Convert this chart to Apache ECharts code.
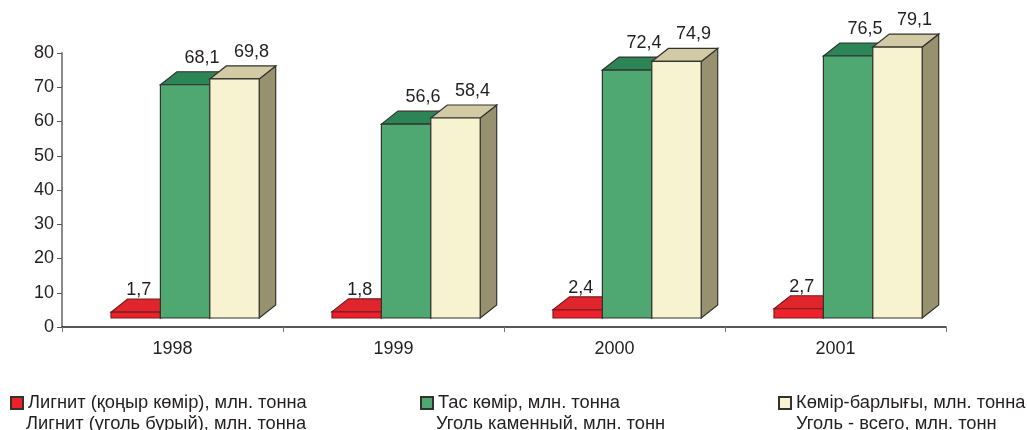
<!DOCTYPE html>
<html>
<head>
<meta charset="utf-8">
<style>
  html, body { margin: 0; padding: 0; background: #fff; }
  #chart { width: 1027px; height: 430px; }
</style>
<script src="https://cdn.jsdelivr.net/npm/echarts@6/dist/echarts.min.js"></script>
</head>
<body>
<div id="chart"></div>
<script>
const years = ['1998', '1999', '2000', '2001'];
const lignite = [1.7, 1.8, 2.4, 2.7];
const hardCoal = [68.1, 56.6, 72.4, 76.5];
const totalCoal = [69.8, 58.4, 74.9, 79.1];
const yTicks = [0, 10, 20, 30, 40, 50, 60, 70, 80];

const names1 = ['Лигнит (қоңыр көмір), млн. тонна', 'Тас көмір, млн. тонна', 'Көмір-барлығы, млн. тонна'];
const names2 = ['Лигнит (уголь бурый), млн. тонна', 'Уголь каменный, млн. тонн', 'Уголь - всего, млн. тонн'];

const FONT = '"Liberation Sans", Arial, sans-serif';
const TEXT = '#231f20';
const EDGE = '#33332e';

// fake 3d: the floor sits 9px above the axis and the box goes back 16/13px
const FLOOR = 9, DX = 16.5, DY = 13, BAR_W = 49.4, GROUP_LEFT = -61.5;

function box3d(slot, colors, labelDx, labelDy) {
  return function (params, api) {
    const i = api.value(0), v = api.value(1);
    const zero = api.coord([i, 0]);
    const top = api.coord([i, v]);
    const l = zero[0] + GROUP_LEFT + slot * BAR_W;
    const r = l + BAR_W;
    const b = zero[1] - FLOOR;
    const t = top[1] - FLOOR;
    const style = c => ({ fill: c, stroke: colors.edge, lineWidth: 1.2 });
    return {
      type: 'group',
      children: [
        { type: 'polygon', shape: { points: [[r, b], [r + DX, b - DY], [r + DX, t - DY], [r, t]] }, style: style(colors.side) },
        { type: 'polygon', shape: { points: [[l, t], [l + DX, t - DY], [r + DX, t - DY], [r, t]] }, style: style(colors.top) },
        { type: 'polygon', shape: { points: [[l, b], [r, b], [r, t], [l, t]] }, style: style(colors.front) },
        {
          type: 'text',
          style: {
            x: (l + r) / 2 + labelDx,
            y: t - DY + labelDy,
            text: String(v).replace('.', ','),
            fill: TEXT,
            font: '18px ' + FONT,
            textAlign: 'center',
            textVerticalAlign: 'middle'
          }
        }
      ]
    };
  };
}

function makeSeries(name, values, slot, colors, labelDx, labelDy) {
  return {
    name: name,
    type: 'custom',
    clip: false,
    itemStyle: { color: colors.front, borderColor: EDGE, borderWidth: 1 },
    encode: { x: 0, y: 1 },
    renderItem: box3d(slot, colors, labelDx, labelDy),
    data: values.map((v, i) => [i, v])
  };
}

function makeLegend(name, left) {
  return {
    data: [name],
    left: left,
    top: 394,
    padding: 0,
    itemWidth: 12,
    itemHeight: 12,
    icon: 'rect',
    selectedMode: false,
    textStyle: { fontFamily: FONT, fontSize: 18.3, color: TEXT }
  };
}

function secondLine(text, left) {
  return {
    type: 'text',
    left: left,
    top: 415,
    style: { text: text, fill: TEXT, font: '18.3px ' + FONT }
  };
}

let myChart = echarts.init(document.getElementById('chart'), null, { renderer: 'canvas' });

let option = {
  animation: false,
  backgroundColor: '#fff',
  grid: { left: 62, right: 81, top: 53, bottom: 103 },
  legend: [
    makeLegend(names1[0], 10),
    makeLegend(names1[1], 420),
    makeLegend(names1[2], 778)
  ],
  graphic: [
    secondLine(names2[0], 26),
    secondLine(names2[1], 436),
    secondLine(names2[2], 796)
  ],
  xAxis: {
    type: 'category',
    data: years,
    boundaryGap: true,
    axisLine: { lineStyle: { color: TEXT, width: 1.5 } },
    axisTick: { show: true, length: 5, lineStyle: { color: '#777' } },
    axisLabel: { fontFamily: FONT, fontSize: 18, color: TEXT, margin: 13 }
  },
  yAxis: {
    type: 'value',
    min: yTicks[0],
    max: yTicks[yTicks.length - 1],
    interval: yTicks[1] - yTicks[0],
    splitLine: { show: false },
    axisLine: { show: true, lineStyle: { color: '#8c8c8c', width: 2 } },
    axisTick: { show: true, length: 5, lineStyle: { color: '#555' } },
    axisLabel: { fontFamily: FONT, fontSize: 18, color: TEXT, margin: 8 }
  },
  series: [
    makeSeries(names1[0], lignite, 0, { front: '#ee2029', top: '#e0252d', side: '#a01c20', edge: '#7a1c20' }, 3, -9),
    makeSeries(names1[1], hardCoal, 1, { front: '#4fa872', top: '#2b8556', side: '#2b8556', edge: EDGE }, 17, -14),
    makeSeries(names1[2], totalCoal, 2, { front: '#f7f2cf', top: '#d2caa4', side: '#97916f', edge: EDGE }, 17, -14)
  ]
};

myChart.setOption(option);
</script>
</body>
</html>
